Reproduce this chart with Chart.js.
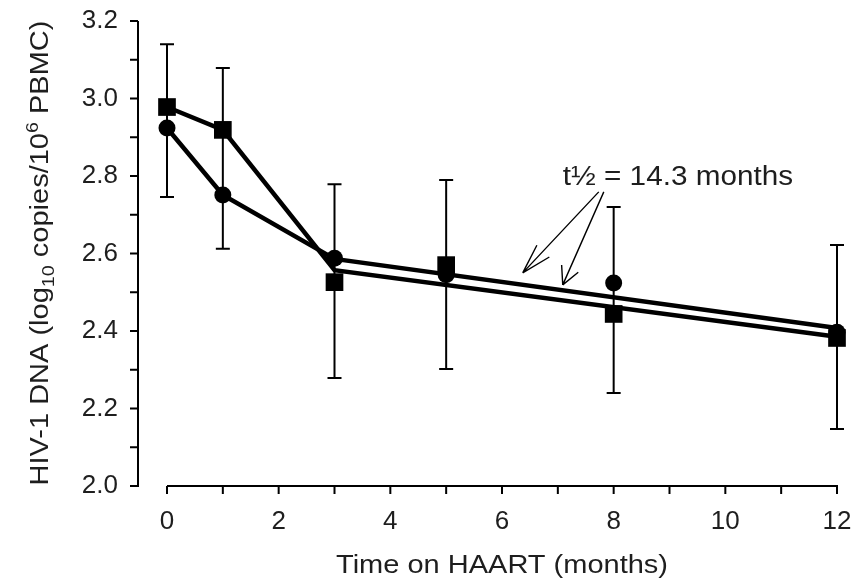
<!DOCTYPE html>
<html>
<head>
<meta charset="utf-8">
<script src="https://cdn.jsdelivr.net/npm/chart.js@4.4.0/dist/chart.umd.min.js"></script>
<style>
  html, body { margin: 0; padding: 0; background: #fff; }
</style>
</head>
<body>
<canvas id="chart" width="858" height="578"></canvas>
<script>
// values
const months = [0, 1, 3, 5, 8, 12];
const circleVals = [2.924, 2.751, 2.588, 2.545, 2.524, 2.397];
const squareVals = [2.978, 2.919, 2.526, 2.570, 2.444, 2.382];
const errHigh = [3.140, 3.079, 2.779, 2.790, 2.720, 2.622];
const errLow = [2.746, 2.612, 2.279, 2.302, 2.240, 2.147];

// early segments, then the fitted decay lines from month 3
const circleLineX = [0, 1, 3, 12];
const circleLineY = [2.924, 2.751, 2.586, 2.408];
const squareLineX = [0, 1, 3, 12];
const squareLineY = [2.978, 2.919, 2.557, 2.385];

const xTicks = [0, 2, 4, 6, 8, 10, 12];
const xMinor = [1, 3, 5, 7, 9, 11];
const yTicks = [2.0, 2.2, 2.4, 2.6, 2.8, 3.0, 3.2];
const yMinor = [2.1, 2.3, 2.5, 2.7, 2.9, 3.1];

const xTitle = "Time on HAART (months)";
const halfLifeLabel = "t½ = 14.3 months";

const FONT = "'Liberation Sans', Arial, Helvetica, sans-serif";
const INK = "#1e1e1e";

const pts = (xs, ys) => xs.map((x, i) => ({ x, y: ys[i] }));

// text drawn slightly wide, like the scanned original
function wideText(ctx, txt, x, y, size, stretch, align) {
  ctx.save();
  ctx.font = size + "px " + FONT;
  const w = ctx.measureText(txt).width * stretch;
  let x0 = x;
  if (align === "center") x0 = x - w / 2;
  ctx.translate(x0, y);
  ctx.scale(stretch, 1);
  ctx.textAlign = "left";
  ctx.textBaseline = "alphabetic";
  ctx.fillText(txt, 0, 0);
  ctx.restore();
  return w;
}

const decor = {
  id: "decor",
  beforeDatasetsDraw(chart) {
    const { ctx, scales: { x, y } } = chart;
    ctx.save();
    ctx.strokeStyle = "#000";
    ctx.lineWidth = 2;
    // error bars
    months.forEach((m, i) => {
      const px = x.getPixelForValue(m);
      const top = y.getPixelForValue(errHigh[i]);
      const bot = y.getPixelForValue(errLow[i]);
      ctx.beginPath();
      ctx.moveTo(px, top); ctx.lineTo(px, bot);
      ctx.moveTo(px - 7, top); ctx.lineTo(px + 7, top);
      ctx.moveTo(px - 7, bot); ctx.lineTo(px + 7, bot);
      ctx.stroke();
    });
    ctx.restore();
  },
  afterDraw(chart) {
    const { ctx, chartArea, scales: { x, y } } = chart;
    ctx.save();
    ctx.strokeStyle = "#000";
    ctx.lineWidth = 2;
    // detached axes
    const yAxisX = chartArea.left - 29;
    const xAxisY = y.getPixelForValue(2.0);
    ctx.beginPath();
    ctx.moveTo(yAxisX, y.getPixelForValue(3.2));
    ctx.lineTo(yAxisX, xAxisY + 1);
    yTicks.concat(yMinor).forEach(v => {
      const py = y.getPixelForValue(v);
      ctx.moveTo(yAxisX, py); ctx.lineTo(yAxisX - 8, py);
    });
    ctx.moveTo(x.getPixelForValue(0), xAxisY);
    ctx.lineTo(x.getPixelForValue(12) + 1, xAxisY);
    xTicks.concat(xMinor).forEach(v => {
      const px = x.getPixelForValue(v);
      ctx.moveTo(px, xAxisY); ctx.lineTo(px, xAxisY + 8);
    });
    ctx.stroke();

    // half-life annotation with open arrows
    ctx.fillStyle = INK;
    wideText(ctx, halfLifeLabel, x.getPixelForValue(7.088), y.getPixelForValue(2.777), 27, 1.1, "left");
    const arrows = [
      { from: [7.733, 2.759], to: [6.371, 2.550], len: 31, ang: 16 },
      { from: [7.823, 2.759], to: [7.088, 2.519], len: 20, ang: 27 }
    ];
    ctx.lineWidth = 1.4;
    arrows.forEach(a => {
      const sx = x.getPixelForValue(a.from[0]), sy = y.getPixelForValue(a.from[1]);
      const tx = x.getPixelForValue(a.to[0]), ty = y.getPixelForValue(a.to[1]);
      const back = Math.atan2(sy - ty, sx - tx);
      const r = a.ang * Math.PI / 180;
      ctx.beginPath();
      ctx.moveTo(sx, sy); ctx.lineTo(tx, ty);
      ctx.moveTo(tx, ty); ctx.lineTo(tx + a.len * Math.cos(back - r), ty + a.len * Math.sin(back - r));
      ctx.moveTo(tx, ty); ctx.lineTo(tx + a.len * Math.cos(back + r), ty + a.len * Math.sin(back + r));
      ctx.stroke();
    });

    // axis titles
    wideText(ctx, xTitle, (x.getPixelForValue(0) + x.getPixelForValue(12)) / 2, 573, 25, 1.16, "center");

    // y title with subscript / superscript, rotated
    const parts = [
      { t: "HIV-1 DNA (log", s: 1, dy: 0 },
      { t: "10", s: 0.68, dy: 6 },
      { t: " copies/10", s: 1, dy: 0 },
      { t: "6", s: 0.68, dy: -10 },
      { t: " PBMC)", s: 1, dy: 0 }
    ];
    const size = 25, stretch = 1.16;
    let total = 0;
    parts.forEach(p => {
      ctx.font = (size * p.s) + "px " + FONT;
      p.w = ctx.measureText(p.t).width * stretch;
      total += p.w;
    });
    ctx.translate(48, 253);
    ctx.rotate(-Math.PI / 2);
    let cx = -total / 2;
    parts.forEach(p => {
      ctx.save();
      ctx.font = (size * p.s) + "px " + FONT;
      ctx.translate(cx, p.dy);
      ctx.scale(stretch, 1);
      ctx.textBaseline = "alphabetic";
      ctx.fillText(p.t, 0, 0);
      ctx.restore();
      cx += p.w;
    });
    ctx.restore();
  }
};

new Chart(document.getElementById("chart"), {
  type: "line",
  data: {
    datasets: [
      {
        type: "scatter", data: pts(months, circleVals), order: 0,
        pointStyle: "circle", pointRadius: 8.5, pointHoverRadius: 8.5,
        backgroundColor: "#000", borderColor: "#000", borderWidth: 0, showLine: false, clip: false
      },
      {
        type: "scatter", data: pts(months, squareVals), order: 0,
        pointStyle: "rect", pointRadius: 12.5, pointHoverRadius: 12.5,
        backgroundColor: "#000", borderColor: "#000", borderWidth: 0, showLine: false, clip: false
      },
      {
        data: pts(circleLineX, circleLineY), order: 1,
        borderColor: "#000", borderWidth: 4.5, pointRadius: 0, tension: 0, clip: false,
        borderJoinStyle: "miter"
      },
      {
        data: pts(squareLineX, squareLineY), order: 1,
        borderColor: "#000", borderWidth: 4.5, pointRadius: 0, tension: 0, clip: false,
        borderJoinStyle: "miter"
      }
    ]
  },
  options: {
    responsive: false,
    devicePixelRatio: 1,
    animation: false,
    events: [],
    layout: { padding: { top: 21, right: 21, left: 0, bottom: 0 } },
    plugins: { legend: { display: false }, tooltip: { enabled: false } },
    scales: {
      x: {
        type: "linear", min: 0, max: 12,
        grid: { display: false, drawTicks: true, tickLength: 18, color: "rgba(0,0,0,0)" },
        border: { display: false },
        afterBuildTicks: s => { s.ticks = xTicks.map(v => ({ value: v })); },
        afterFit: s => { s.height = 92; },
        ticks: { color: INK, font: { family: FONT, size: 26 }, padding: 2, maxRotation: 0, callback: v => String(v) }
      },
      y: {
        type: "linear", min: 2.0, max: 3.2,
        grid: { display: false, drawTicks: true, tickLength: 47, color: "rgba(0,0,0,0)" },
        border: { display: false },
        afterBuildTicks: s => { s.ticks = yTicks.map(v => ({ value: v })); },
        afterFit: s => { s.width = 167; },
        ticks: { color: INK, font: { family: FONT, size: 26 }, padding: 2, callback: v => Number(v).toFixed(1) }
      }
    }
  },
  plugins: [decor]
});
</script>
</body>
</html>
